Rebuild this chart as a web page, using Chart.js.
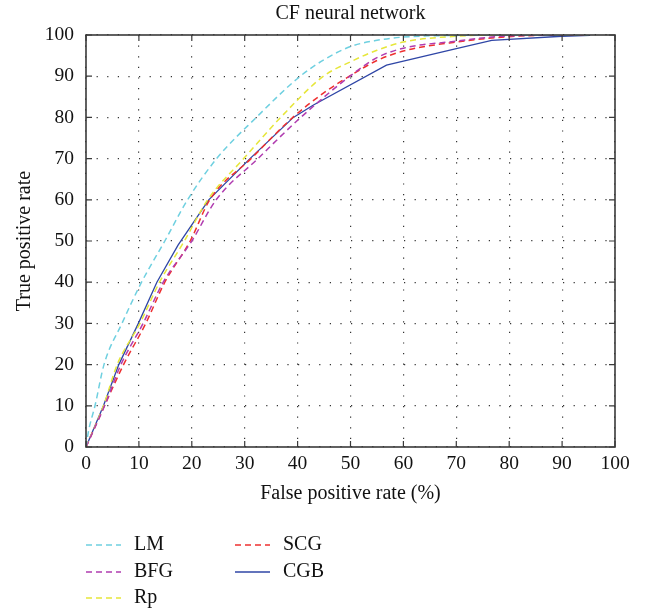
<!DOCTYPE html>
<html>
<head>
<meta charset="utf-8">
<script src="https://cdn.jsdelivr.net/npm/chart.js@4.4.1/dist/chart.umd.min.js"></script>
<style>
  html, body { margin: 0; padding: 0; background: #fff; }
  #wrap { width: 645px; height: 614px; }
</style>
</head>
<body>
<div id="wrap"><canvas id="roc_chart" width="645" height="614"></canvas></div>
<script>
// ROC curves for the CF neural network
const seriesNames = ['LM', 'BFG', 'Rp', 'SCG', 'CGB'];

const lmFpr = [0, 0.5, 1.7, 3.4, 6.8, 10.5, 14.9, 19.2, 24.7, 32.2, 40.5, 45, 50, 55, 60, 70, 80, 95];
const lmTpr = [0, 4, 10, 20, 30, 40, 50, 60, 70, 80, 90, 94, 97.2, 98.7, 99.5, 99.9, 100, 100];

const bfgFpr = [0, 3.5, 6.6, 10.8, 14.6, 20, 24.6, 32.5, 40.6, 49.9, 55, 60, 70, 80, 95];
const bfgTpr = [0, 10, 20, 30, 40, 50, 60, 70, 80, 90, 94.5, 96.8, 98.5, 99.8, 100];

const rpFpr = [0, 3.3, 5.9, 10.2, 13.9, 18.6, 23, 29.8, 36.8, 44.9, 50, 55, 60, 70, 80, 95];
const rpTpr = [0, 10, 20, 30, 40, 50, 60, 70, 80, 90, 93.5, 96.3, 98.3, 99.7, 100, 100];

const scgFpr = [0, 3.5, 7.1, 11.3, 14.9, 19.7, 23.4, 31.2, 39.1, 45, 49.8, 55, 60, 70, 80, 90, 95];
const scgTpr = [0, 10, 20, 30, 40, 50, 60, 70, 80, 86, 90, 93.8, 96.1, 98.3, 99.6, 100, 100];

const cgbFpr = [0, 3.3, 6.2, 9.9, 13.4, 17.4, 23.2, 31, 39.2, 43, 56.8, 70, 76.7, 90, 95.3];
const cgbTpr = [0, 10, 20, 30, 40, 49, 60, 70, 80, 83, 92.7, 96.7, 98.7, 99.7, 99.9];

const lineColors = ['#6fd0e0', '#b03cb0', '#e6e63a', '#ee3030', '#2f46a6'];

function toPoints(xs, ys) {
    let pts = [];
    for (let i = 0; i < xs.length; i++) {
        pts.push({ x: xs[i], y: ys[i] });
    }
    return pts;
}

const serif = "'Liberation Serif', 'DejaVu Serif', serif";

// frame with inward tick marks, title and the two-column legend
const framePlugin = {
    id: 'framePlugin',
    afterDraw(chart) {
        const ctx = chart.ctx;
        const a = chart.chartArea;
        const xs = chart.scales.x;
        const ys = chart.scales.y;
        ctx.save();
        ctx.strokeStyle = '#3a3a3a';
        ctx.lineWidth = 1.6;
        ctx.strokeRect(a.left, a.top, a.right - a.left, a.bottom - a.top);

        ctx.lineWidth = 1.2;
        ctx.beginPath();
        xs.ticks.forEach(t => {
            const px = xs.getPixelForValue(t.value);
            ctx.moveTo(px, a.bottom); ctx.lineTo(px, a.bottom - 6);
            ctx.moveTo(px, a.top); ctx.lineTo(px, a.top + 6);
        });
        ys.ticks.forEach(t => {
            const py = ys.getPixelForValue(t.value);
            ctx.moveTo(a.left, py); ctx.lineTo(a.left + 6, py);
            ctx.moveTo(a.right, py); ctx.lineTo(a.right - 6, py);
        });
        ctx.stroke();

        // title
        ctx.fillStyle = '#111';
        ctx.font = '20px ' + serif;
        ctx.textAlign = 'center';
        ctx.textBaseline = 'middle';
        ctx.fillText('CF neural network', (a.left + a.right) / 2, 14);

        // legend
        const colX = [86, 235];
        const rowY = [545, 572, 598];
        ctx.textAlign = 'left';
        chart.data.datasets.forEach((ds, i) => {
            const col = i < 3 ? 0 : 1;
            const row = i < 3 ? i : i - 3;
            const x0 = colX[col];
            const y0 = rowY[row];
            ctx.strokeStyle = ds.borderColor;
            ctx.lineWidth = 1.4;
            ctx.setLineDash(ds.borderDash || []);
            ctx.beginPath();
            ctx.moveTo(x0, y0);
            ctx.lineTo(x0 + 35, y0);
            ctx.stroke();
            ctx.setLineDash([]);
            ctx.fillStyle = '#111';
            ctx.fillText(ds.label, x0 + 48, y0);
        });
        ctx.restore();
    }
};

const fprData = [lmFpr, bfgFpr, rpFpr, scgFpr, cgbFpr];
const tprData = [lmTpr, bfgTpr, rpTpr, scgTpr, cgbTpr];

let datasets = [];
for (let i = 0; i < seriesNames.length; i++) {
    const solid = seriesNames[i] === 'CGB';
    datasets.push({
        label: seriesNames[i],
        data: toPoints(fprData[i], tprData[i]),
        borderColor: lineColors[i],
        borderWidth: solid ? 1.3 : 1.5,
        borderDash: solid ? [] : [6, 4],
        pointRadius: 0,
        fill: false,
        tension: solid ? 0 : 0.4,
        cubicInterpolationMode: solid ? 'default' : 'monotone'
    });
}

const ctx = document.getElementById('roc_chart').getContext('2d');
const roc_chart = new Chart(ctx, {
    type: 'line',
    data: { datasets: datasets },
    options: {
        responsive: false,
        animation: false,
        layout: { padding: { top: 35, right: 30, bottom: 105, left: 0 } },
        plugins: {
            legend: { display: false },
            title: { display: false },
            tooltip: { enabled: false }
        },
        scales: {
            x: {
                type: 'linear',
                min: 0,
                max: 100,
                ticks: { stepSize: 10, color: '#111', font: { family: serif, size: 19.5 }, padding: 5 },
                grid: { color: '#333', lineWidth: 1.2, drawTicks: false },
                border: { display: false, dash: [1.2, 9.4] },
                title: { display: true, text: 'False positive rate (%)', color: '#111', font: { family: serif, size: 20 }, padding: { top: 3, bottom: 3 } },
                afterFit: (scale) => { scale.height = 62; }
            },
            y: {
                min: 0,
                max: 100,
                ticks: { stepSize: 10, color: '#111', font: { family: serif, size: 19.5 }, padding: 12 },
                grid: { color: '#333', lineWidth: 1.2, drawTicks: false },
                border: { display: false, dash: [1.2, 9.4] },
                title: { display: true, text: 'True positive rate', color: '#111', font: { family: serif, size: 20 }, padding: { top: 13, bottom: 4 } },
                afterFit: (scale) => { scale.width = 86; }
            }
        }
    },
    plugins: [framePlugin]
});
</script>
</body>
</html>
